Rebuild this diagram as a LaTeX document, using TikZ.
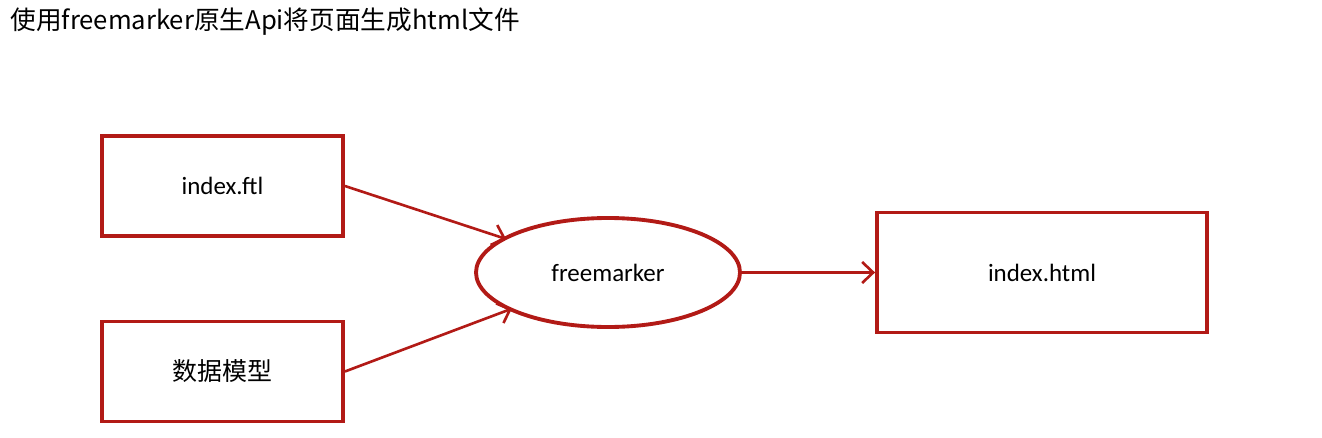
\documentclass[tikz,border=0pt]{standalone}
\usepackage{fontspec}
\setmainfont{Carlito}
\newfontfamily\cjkfont{Noto Sans CJK SC}
\usepackage{tikz}
\usetikzlibrary{shapes.geometric, arrows.meta}

\definecolor{boxred}{RGB}{178,26,22}

\begin{document}
\begin{tikzpicture}[
    every node/.style={font=\fontsize{14.2pt}{17pt}\selectfont},
    filebox/.style={draw=boxred, line width=2.2pt, rectangle, minimum width=4.82cm, minimum height=2cm},
    engine/.style={draw=boxred, line width=2.2pt, ellipse, minimum width=5.28cm, minimum height=2.18cm},
    flow/.style={draw=boxred, line width=1.5pt, -{Straight Barb[length=2.2mm, width=4.2mm]}}
]

    % Canvas
    \useasboundingbox (0, 0) rectangle (26.44, 8.74);

    % Title
    \node[anchor=west, inner sep=0pt, font=\fontsize{14.6pt}{17pt}\selectfont] (title) at (0.2, 8.30) {\cjkfont 使用freemarker原生Api将页面生成html文件};

    % Inputs
    \node[filebox] (ftl) at (4.45, 5.02) {index.ftl};
    \node[filebox] (model) at (4.45, 1.31) {\cjkfont 数据模型};

    % Template engine
    \node[engine] (fm) at (12.16, 3.29) {freemarker};

    % Output
    \node[filebox, minimum width=6.6cm, minimum height=2.4cm] (html) at (20.84, 3.29) {index.html};

    % Arrows (tips touch the ellipse line)
    \draw[flow, shorten >=-0.08cm] (ftl.east) -- (fm);
    \draw[flow, shorten >=-0.08cm] (model.east) -- (fm);
    \draw[flow] (fm.east) -- (html.west);
\end{tikzpicture}
\end{document}
